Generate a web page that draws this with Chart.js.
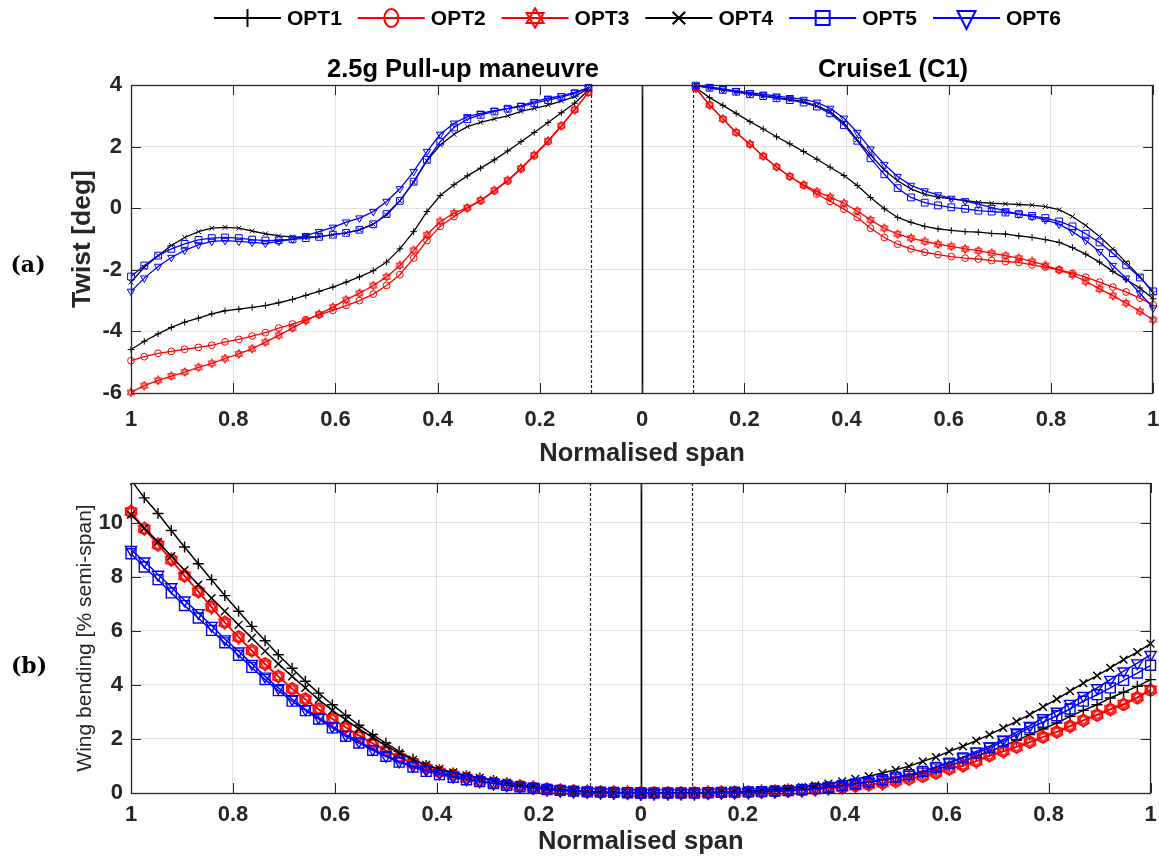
<!DOCTYPE html>
<html><head><meta charset="utf-8">
<script src="https://cdn.jsdelivr.net/npm/chart.js@4.4.1/dist/chart.umd.min.js"></script>
<style>
html,body{margin:0;padding:0;background:#fff;}
#wrap{position:relative;width:1159px;height:860px;overflow:hidden;}
#c1{position:absolute;left:0;top:0;}
#c2{position:absolute;left:0;top:470px;}
</style></head><body>
<div id="wrap"><canvas id="c1" width="1159" height="470"></canvas><canvas id="c2" width="1159" height="390"></canvas></div>
<script>
// ---------------- DATA ----------------
const names = ['OPT1','OPT2','OPT3','OPT4','OPT5','OPT6'];
// normalised span stations (0 -> 1)
const span = [0, 0.026, 0.053, 0.079, 0.105, 0.132, 0.158, 0.184, 0.211, 0.237, 0.263, 0.289, 0.316, 0.342, 0.368, 0.395, 0.421, 0.447, 0.474, 0.5, 0.526, 0.553, 0.579, 0.605, 0.632, 0.658, 0.684, 0.711, 0.737, 0.763, 0.789, 0.816, 0.842, 0.868, 0.895, 0.921, 0.947, 0.974, 1];
// twist stations (0.105 -> 1)
const spanTwist = span.slice(4);
const xTickValues = [-1, -0.8, -0.6, -0.4, -0.2, 0, 0.2, 0.4, 0.6, 0.8, 1];
const refLines = [-0.1, 0.1];

// (a) Twist [deg], 2.5g pull-up manoeuvre (left half), span ascending
const twistPullOPT1 = [3.84, 3.41, 3.10, 2.78, 2.46, 2.16, 1.86, 1.57, 1.30, 1.05, 0.76, 0.41, -0.11, -0.76, -1.32, -1.75, -2.03, -2.23, -2.40, -2.56, -2.70, -2.83, -2.96, -3.07, -3.16, -3.22, -3.28, -3.33, -3.43, -3.57, -3.70, -3.87, -4.08, -4.32, -4.59];
const twistPullOPT2 = [3.76, 3.19, 2.67, 2.16, 1.70, 1.27, 0.88, 0.56, 0.24, 0.00, -0.27, -0.59, -1.05, -1.62, -2.16, -2.51, -2.79, -3.00, -3.16, -3.32, -3.46, -3.62, -3.76, -3.89, -4.04, -4.15, -4.26, -4.34, -4.45, -4.52, -4.58, -4.65, -4.71, -4.82, -4.95];
const twistPullOPT3 = [3.76, 3.20, 2.68, 2.19, 1.73, 1.30, 0.91, 0.58, 0.26, 0.02, -0.16, -0.43, -0.86, -1.37, -1.86, -2.23, -2.51, -2.76, -2.97, -3.21, -3.44, -3.65, -3.89, -4.13, -4.35, -4.56, -4.73, -4.88, -5.04, -5.17, -5.32, -5.45, -5.59, -5.76, -5.98];
const twistPullOPT4 = [3.89, 3.62, 3.48, 3.35, 3.24, 3.14, 3.00, 2.90, 2.79, 2.65, 2.40, 2.05, 1.54, 0.84, 0.24, -0.22, -0.52, -0.70, -0.80, -0.86, -0.92, -0.94, -0.93, -0.90, -0.83, -0.74, -0.65, -0.62, -0.65, -0.76, -0.95, -1.21, -1.54, -1.92, -2.40];
const twistPullOPT5 = [3.91, 3.73, 3.61, 3.51, 3.41, 3.30, 3.23, 3.14, 3.03, 2.89, 2.62, 2.16, 1.57, 0.86, 0.24, -0.19, -0.52, -0.70, -0.80, -0.86, -0.93, -0.97, -1.01, -1.04, -1.05, -1.02, -0.97, -0.95, -0.97, -1.03, -1.16, -1.32, -1.54, -1.86, -2.22];
const twistPullOPT6 = [3.91, 3.76, 3.65, 3.57, 3.46, 3.33, 3.24, 3.17, 3.08, 2.97, 2.76, 2.40, 1.84, 1.19, 0.63, 0.22, -0.11, -0.32, -0.45, -0.62, -0.76, -0.89, -1.00, -1.08, -1.14, -1.11, -1.08, -1.05, -1.08, -1.19, -1.37, -1.60, -1.89, -2.27, -2.70];

// (a) Twist [deg], Cruise1 (C1) (right half), span ascending
const twistCruiseOPT1 = [3.91, 3.59, 3.34, 3.08, 2.81, 2.57, 2.32, 2.09, 1.84, 1.59, 1.33, 1.06, 0.74, 0.35, -0.02, -0.30, -0.46, -0.59, -0.67, -0.72, -0.76, -0.78, -0.82, -0.84, -0.90, -0.95, -1.02, -1.11, -1.28, -1.49, -1.75, -2.05, -2.32, -2.59, -2.94];
const twistCruiseOPT2 = [3.89, 3.35, 2.90, 2.46, 2.08, 1.69, 1.34, 1.03, 0.74, 0.46, 0.22, -0.03, -0.30, -0.65, -0.95, -1.17, -1.32, -1.43, -1.51, -1.57, -1.62, -1.65, -1.70, -1.73, -1.76, -1.84, -1.91, -2.00, -2.11, -2.24, -2.40, -2.56, -2.72, -2.92, -3.14];
const twistCruiseOPT3 = [3.89, 3.35, 2.90, 2.46, 2.08, 1.69, 1.34, 1.03, 0.76, 0.54, 0.36, 0.16, -0.09, -0.38, -0.65, -0.84, -0.97, -1.08, -1.17, -1.24, -1.32, -1.38, -1.46, -1.54, -1.62, -1.73, -1.86, -2.00, -2.16, -2.38, -2.62, -2.84, -3.08, -3.35, -3.62];
const twistCruiseOPT4 = [3.98, 3.91, 3.84, 3.78, 3.71, 3.65, 3.59, 3.53, 3.46, 3.32, 3.14, 2.76, 2.22, 1.73, 1.24, 0.89, 0.63, 0.45, 0.36, 0.30, 0.25, 0.19, 0.16, 0.14, 0.12, 0.10, 0.05, -0.05, -0.27, -0.56, -0.92, -1.32, -1.76, -2.22, -2.76];
const twistCruiseOPT5 = [3.98, 3.91, 3.84, 3.78, 3.70, 3.64, 3.57, 3.51, 3.43, 3.30, 3.08, 2.70, 2.19, 1.62, 1.10, 0.65, 0.35, 0.18, 0.09, 0.03, -0.02, -0.08, -0.11, -0.14, -0.19, -0.25, -0.32, -0.43, -0.59, -0.83, -1.11, -1.46, -1.84, -2.25, -2.70];
const twistCruiseOPT6 = [3.98, 3.94, 3.87, 3.81, 3.75, 3.70, 3.64, 3.59, 3.53, 3.44, 3.24, 2.92, 2.46, 1.92, 1.42, 1.03, 0.74, 0.56, 0.43, 0.32, 0.24, 0.13, 0.02, -0.09, -0.19, -0.27, -0.38, -0.52, -0.76, -1.05, -1.41, -1.86, -2.27, -2.76, -3.24];

// (b) Wing bending [% semi-span], pull-up (left half), span ascending
const bendPullOPT1 = [0.00, 0.00, 0.01, 0.02, 0.05, 0.09, 0.12, 0.17, 0.23, 0.30, 0.37, 0.46, 0.56, 0.64, 0.74, 0.86, 1.02, 1.26, 1.54, 1.85, 2.16, 2.51, 2.88, 3.27, 3.70, 4.14, 4.62, 5.12, 5.64, 6.17, 6.73, 7.31, 7.90, 8.49, 9.11, 9.72, 10.35, 10.93, 11.60];
const bendPullOPT2 = [0.00, 0.01, 0.02, 0.03, 0.05, 0.07, 0.10, 0.15, 0.19, 0.25, 0.31, 0.37, 0.46, 0.56, 0.67, 0.78, 0.93, 1.11, 1.33, 1.58, 1.85, 2.14, 2.44, 2.75, 3.11, 3.48, 3.86, 4.32, 4.78, 5.28, 5.78, 6.32, 6.89, 7.47, 8.05, 8.64, 9.20, 9.79, 10.41];
const bendPullOPT3 = [0.00, 0.01, 0.02, 0.03, 0.05, 0.07, 0.10, 0.14, 0.19, 0.24, 0.30, 0.37, 0.45, 0.55, 0.66, 0.77, 0.92, 1.10, 1.32, 1.57, 1.84, 2.13, 2.43, 2.74, 3.10, 3.47, 3.85, 4.31, 4.77, 5.27, 5.77, 6.31, 6.88, 7.46, 8.04, 8.63, 9.19, 9.78, 10.42];
const bendPullOPT4 = [0.00, 0.00, 0.01, 0.02, 0.05, 0.09, 0.12, 0.17, 0.23, 0.30, 0.38, 0.47, 0.56, 0.65, 0.76, 0.89, 1.04, 1.23, 1.48, 1.75, 2.06, 2.37, 2.72, 3.06, 3.46, 3.89, 4.32, 4.78, 5.25, 5.74, 6.23, 6.73, 7.22, 7.72, 8.25, 8.77, 9.30, 9.81, 10.31];
const bendPullOPT5 = [0.00, 0.01, 0.02, 0.03, 0.04, 0.07, 0.10, 0.13, 0.18, 0.23, 0.28, 0.35, 0.42, 0.49, 0.58, 0.68, 0.80, 0.96, 1.14, 1.36, 1.58, 1.85, 2.10, 2.41, 2.74, 3.05, 3.40, 3.79, 4.20, 4.65, 5.10, 5.56, 6.02, 6.48, 6.94, 7.41, 7.90, 8.37, 8.86];
const bendPullOPT6 = [0.00, 0.01, 0.02, 0.03, 0.05, 0.07, 0.10, 0.14, 0.19, 0.24, 0.29, 0.36, 0.44, 0.51, 0.61, 0.74, 0.86, 1.01, 1.17, 1.38, 1.63, 1.91, 2.16, 2.47, 2.80, 3.11, 3.48, 3.89, 4.32, 4.79, 5.25, 5.70, 6.20, 6.67, 7.14, 7.63, 8.09, 8.58, 9.01];

// (b) Wing bending [% semi-span], cruise (right half), span ascending
const bendCruiseOPT1 = [0, 0, 0, 0, 0, 0.01, 0.02, 0.03, 0.04, 0.06, 0.08, 0.11, 0.14, 0.18, 0.23, 0.29, 0.35, 0.41, 0.48, 0.56, 0.64, 0.74, 0.86, 1.01, 1.17, 1.36, 1.54, 1.73, 1.95, 2.16, 2.37, 2.59, 2.84, 3.06, 3.27, 3.52, 3.73, 3.95, 4.20];
const bendCruiseOPT2 = [0, 0, 0, 0, 0, 0.01, 0.02, 0.02, 0.03, 0.04, 0.06, 0.08, 0.10, 0.13, 0.17, 0.21, 0.26, 0.31, 0.37, 0.43, 0.52, 0.62, 0.74, 0.89, 1.01, 1.17, 1.38, 1.54, 1.70, 1.88, 2.07, 2.26, 2.47, 2.69, 2.88, 3.09, 3.27, 3.52, 3.80];
const bendCruiseOPT3 = [0, 0, 0, 0, 0, 0.01, 0.02, 0.02, 0.03, 0.04, 0.06, 0.08, 0.10, 0.13, 0.17, 0.21, 0.26, 0.31, 0.37, 0.44, 0.53, 0.63, 0.75, 0.90, 1.02, 1.18, 1.39, 1.55, 1.71, 1.89, 2.08, 2.27, 2.48, 2.70, 2.90, 3.11, 3.30, 3.55, 3.83];
const bendCruiseOPT4 = [0, 0, 0, 0.01, 0.01, 0.02, 0.04, 0.05, 0.07, 0.10, 0.14, 0.17, 0.22, 0.28, 0.35, 0.43, 0.52, 0.62, 0.74, 0.86, 0.99, 1.17, 1.33, 1.54, 1.73, 1.94, 2.16, 2.41, 2.65, 2.90, 3.19, 3.48, 3.77, 4.07, 4.35, 4.63, 4.94, 5.22, 5.53];
const bendCruiseOPT5 = [0, 0, 0, 0, 0, 0.01, 0.02, 0.03, 0.04, 0.05, 0.07, 0.09, 0.12, 0.16, 0.21, 0.27, 0.34, 0.41, 0.49, 0.58, 0.68, 0.80, 0.95, 1.11, 1.30, 1.48, 1.67, 1.91, 2.16, 2.41, 2.62, 2.86, 3.11, 3.40, 3.64, 3.89, 4.17, 4.44, 4.73];
const bendCruiseOPT6 = [0, 0, 0, 0, 0, 0.01, 0.02, 0.03, 0.04, 0.05, 0.07, 0.09, 0.12, 0.17, 0.22, 0.27, 0.35, 0.41, 0.49, 0.58, 0.68, 0.80, 0.96, 1.14, 1.33, 1.54, 1.73, 1.98, 2.25, 2.49, 2.78, 3.02, 3.31, 3.60, 3.89, 4.20, 4.51, 4.81, 5.12];

// ---------------- STYLE ----------------
const FONT = "'Liberation Sans', Arial, Helvetica, sans-serif";
const colors = ['#000000', '#ff0000', '#ff0000', '#000000', '#0000ff', '#0000ff'];
const markers = ['cross', 'circle', 'hexagram', 'crossRot', 'rect', 'triangleDown'];

function makeHex(size, color, lw) {
  const c = document.createElement('canvas');
  c.width = size; c.height = size;
  const g = c.getContext('2d');
  const r = size / 2 - lw * 0.6, cx = size / 2, cy = size / 2;
  g.strokeStyle = color; g.lineWidth = lw; g.lineJoin = 'miter';
  [-90, 90].forEach(a0 => {
    g.beginPath();
    for (let k = 0; k < 3; k++) {
      const a = (a0 + k * 120) * Math.PI / 180;
      const px = cx + r * Math.cos(a), py = cy + r * Math.sin(a);
      if (k === 0) g.moveTo(px, py); else g.lineTo(px, py);
    }
    g.closePath(); g.stroke();
  });
  return c;
}

function markerProps(m, big, color) {
  const R = big ? {cross: 5.5, circle: 5.5, hexagram: 15, crossRot: 5.5, rect: 7, triangleDown: 6.5}
                : {cross: 3.3, circle: 3.4, hexagram: 10, crossRot: 3.3, rect: 4.8, triangleDown: 4.3};
  if (m === 'hexagram') return {pointStyle: makeHex(R.hexagram, color, big ? 1.4 : 1), pointRadius: 4, pointRotation: 0};
  if (m === 'triangleDown') return {pointStyle: 'triangle', pointRadius: R[m], pointRotation: 180};
  return {pointStyle: m, pointRadius: R[m], pointRotation: 0};
}

function makeSets(leftSeries, rightSeries, xs, big, clipTop) {
  const sets = [];
  leftSeries.forEach((vals, i) => {
    const mp = markerProps(markers[i], big, colors[i]);
    const common = Object.assign({
      borderColor: colors[i], backgroundColor: 'rgba(0,0,0,0)',
      pointBorderColor: colors[i], pointBackgroundColor: 'rgba(0,0,0,0)',
      borderWidth: big ? 1.5 : 1.3, pointBorderWidth: big ? 1.4 : 1,
      tension: 0, fill: false, order: 5 - i,
      clip: {left: 10, right: 10, top: clipTop, bottom: 10}
    }, mp);
    common.pointHoverRadius = mp.pointRadius;
    sets.push(Object.assign({label: names[i] + ' L', data: xs.map((s, j) => ({x: -s, y: vals[j]}))}, common));
    sets.push(Object.assign({label: names[i] + ' R', data: xs.map((s, j) => ({x: s, y: rightSeries[i][j]}))}, common));
  });
  return sets;
}

const framePlugin = {
  id: 'frame',
  beforeDatasetsDraw(chart) {
    const {ctx, chartArea: a, scales: {x}} = chart;
    ctx.save();
    ctx.beginPath(); ctx.rect(a.left, a.top, a.right - a.left, a.bottom - a.top); ctx.clip();
    ctx.strokeStyle = '#1a1a1a'; ctx.lineWidth = 1.2; ctx.setLineDash([3, 2]);
    refLines.forEach(v => {
      const px = Math.round(x.getPixelForValue(v)) + 0.5;
      ctx.beginPath(); ctx.moveTo(px, a.top); ctx.lineTo(px, a.bottom); ctx.stroke();
    });
    ctx.setLineDash([]); ctx.strokeStyle = '#000'; ctx.lineWidth = 1.6;
    const p0 = Math.round(x.getPixelForValue(0)) + 0.5;
    ctx.beginPath(); ctx.moveTo(p0, a.top); ctx.lineTo(p0, a.bottom); ctx.stroke();
    ctx.restore();
  },
  afterDatasetsDraw(chart) {
    const {ctx, chartArea: a, scales: {x, y}} = chart;
    ctx.save();
    ctx.strokeStyle = '#262626'; ctx.lineWidth = 1;
    const L = 10;
    ctx.beginPath();
    x.ticks.forEach(t => {
      const px = Math.round(x.getPixelForValue(t.value)) + 0.5;
      ctx.moveTo(px, a.bottom); ctx.lineTo(px, a.bottom - L);
      ctx.moveTo(px, a.top); ctx.lineTo(px, a.top + L);
    });
    y.ticks.forEach(t => {
      const py = Math.round(y.getPixelForValue(t.value)) + 0.5;
      ctx.moveTo(a.left, py); ctx.lineTo(a.left + L, py);
      ctx.moveTo(a.right, py); ctx.lineTo(a.right - L, py);
    });
    ctx.stroke();
    ctx.lineWidth = 1.3;
    ctx.strokeRect(Math.round(a.left) + 0.5, Math.round(a.top) + 0.5, Math.round(a.right - a.left) - 1, Math.round(a.bottom - a.top));
    ctx.restore();
  }
};

function drawLegendMarker(ctx, m, color, cx, cy) {
  ctx.save();
  ctx.strokeStyle = color; ctx.lineWidth = 2;
  const r = 9;
  ctx.beginPath();
  if (m === 'cross') { ctx.moveTo(cx - r, cy); ctx.lineTo(cx + r, cy); ctx.moveTo(cx, cy - r); ctx.lineTo(cx, cy + r); ctx.stroke(); }
  else if (m === 'crossRot') { const d = r * 0.7; ctx.moveTo(cx - d, cy - d); ctx.lineTo(cx + d, cy + d); ctx.moveTo(cx - d, cy + d); ctx.lineTo(cx + d, cy - d); ctx.stroke(); }
  else if (m === 'circle') { ctx.ellipse(cx, cy, 7, 9, 0, 0, Math.PI * 2); ctx.stroke(); }
  else if (m === 'rect') { ctx.rect(cx - 7, cy - 7, 14, 14); ctx.stroke(); }
  else if (m === 'triangleDown') { ctx.moveTo(cx - 9, cy - 7); ctx.lineTo(cx + 9, cy - 7); ctx.lineTo(cx, cy + 11); ctx.closePath(); ctx.stroke(); }
  else if (m === 'hexagram') { const img = makeHex(22, color, 2); ctx.drawImage(img, cx - 11, cy - 11); }
  ctx.restore();
}

const decorTop = {
  id: 'decorTop',
  afterDraw(chart) {
    const ctx = chart.ctx;
    ctx.save();
    // legend
    const left0 = 214, pitch = 143.8, lineLen = 67, cy = 18;
    names.forEach((n, i) => {
      const x0 = left0 + i * pitch;
      ctx.strokeStyle = colors[i]; ctx.lineWidth = 2.2;
      ctx.beginPath(); ctx.moveTo(x0, cy); ctx.lineTo(x0 + lineLen, cy); ctx.stroke();
      drawLegendMarker(ctx, markers[i], colors[i], x0 + lineLen / 2, cy);
      ctx.fillStyle = '#000'; ctx.font = 'bold 21px ' + FONT; ctx.textAlign = 'left'; ctx.textBaseline = 'middle';
      ctx.fillText(n, x0 + lineLen + 6, cy + 1);
    });
    // panel titles
    ctx.fillStyle = '#000'; ctx.font = 'bold 25.5px ' + FONT; ctx.textAlign = 'center'; ctx.textBaseline = 'alphabetic';
    ctx.fillText('2.5g Pull-up maneuvre', 463, 77);
    ctx.fillText('Cruise1 (C1)', 893, 77);
    // (a)
    ctx.font = "bold 22px 'DejaVu Serif', 'Liberation Serif', serif"; ctx.textBaseline = 'middle';
    ctx.fillText('(a)', 28, 266);
    ctx.restore();
  }
};

const decorBottom = {
  id: 'decorBottom',
  afterDraw(chart) {
    const ctx = chart.ctx;
    ctx.save();
    ctx.fillStyle = '#000'; ctx.textAlign = 'center'; ctx.textBaseline = 'middle';
    ctx.font = "bold 22px 'DejaVu Serif', 'Liberation Serif', serif";
    ctx.fillText('(b)', 29, 197);
    ctx.restore();
  }
};

function xScale(tickPad, titlePadBottom, axisHeight) {
  return {
    type: 'linear', min: -1, max: 1,
    afterBuildTicks: s => { s.ticks = xTickValues.map(v => ({value: v})); },
    ticks: {
      callback: v => String(Math.abs(Math.round(v * 10) / 10)),
      font: {family: FONT, size: 22, weight: 'bold', lineHeight: 1.2},
      color: '#262626', padding: tickPad, maxRotation: 0, autoSkip: false
    },
    grid: {color: '#e2e2e2', lineWidth: 1, drawTicks: false},
    border: {display: false},
    title: {display: true, text: 'Normalised span', color: '#262626',
      font: {family: FONT, size: 25.5, weight: 'bold', lineHeight: 1.2},
      padding: {top: 0, bottom: titlePadBottom}},
    afterFit: s => { s.height = axisHeight; s.paddingLeft = 0; s.paddingRight = 0; }
  };
}

function baseOptions(yOpts, xOpts, padTop) {
  return {
    responsive: false, animation: false, devicePixelRatio: 1, events: [],
    layout: {padding: {top: padTop, right: 4, bottom: 0, left: 0}},
    plugins: {legend: {display: false}, tooltip: {enabled: false}, title: {display: false}},
    scales: {x: xOpts, y: yOpts}
  };
}

// ---------------- TOP CHART (a) ----------------
new Chart(document.getElementById('c1'), {
  type: 'line',
  data: {datasets: makeSets(
    [twistPullOPT1, twistPullOPT2, twistPullOPT3, twistPullOPT4, twistPullOPT5, twistPullOPT6],
    [twistCruiseOPT1, twistCruiseOPT2, twistCruiseOPT3, twistCruiseOPT4, twistCruiseOPT5, twistCruiseOPT6],
    spanTwist, false, 6)},
  options: baseOptions({
    type: 'linear', min: -6, max: 4,
    ticks: {stepSize: 2, font: {family: FONT, size: 22, weight: 'bold'}, color: '#262626', padding: 9},
    grid: {color: '#e2e2e2', lineWidth: 1, drawTicks: false},
    border: {display: false},
    title: {display: true, text: 'Twist [deg]', color: '#262626',
      font: {family: FONT, size: 26.5, weight: 'bold', lineHeight: 1.2}, padding: {top: 67, bottom: 0}},
    afterFit: s => { s.width = 131; s.paddingTop = 0; s.paddingBottom = 0; }
  }, xScale(13.8, 0.7, 77), 85),
  plugins: [framePlugin, decorTop]
});

// ---------------- BOTTOM CHART (b) ----------------
new Chart(document.getElementById('c2'), {
  type: 'line',
  data: {datasets: makeSets(
    [bendPullOPT1, bendPullOPT2, bendPullOPT3, bendPullOPT4, bendPullOPT5, bendPullOPT6],
    [bendCruiseOPT1, bendCruiseOPT2, bendCruiseOPT3, bendCruiseOPT4, bendCruiseOPT5, bendCruiseOPT6],
    span, true, 0)},
  options: baseOptions({
    type: 'linear', min: 0, max: 11.48,
    ticks: {stepSize: 2, includeBounds: false, font: {family: FONT, size: 22, weight: 'bold'}, color: '#262626', padding: 8},
    grid: {color: '#e2e2e2', lineWidth: 1, drawTicks: false},
    border: {display: false},
    title: {display: true, text: 'Wing bending [% semi-span]', color: '#262626',
      font: {family: FONT, size: 21, weight: 'normal', lineHeight: 1.2}, padding: {top: 72.4, bottom: 0}},
    afterFit: s => { s.width = 131; s.paddingTop = 0; s.paddingBottom = 0; }
  }, xScale(8.8, 2.7, 67), 13),
  plugins: [framePlugin, decorBottom]
});
</script>
</body></html>
